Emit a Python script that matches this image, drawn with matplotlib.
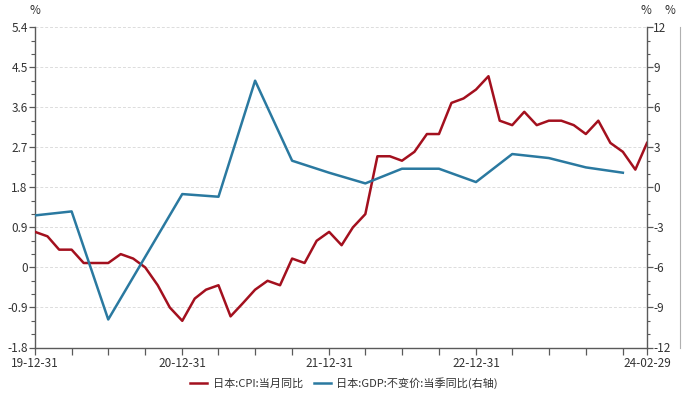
import pandas as pd
import matplotlib
matplotlib.use('Agg')
import matplotlib.pyplot as plt
import matplotlib.dates as mdates

plt.rcParams['font.family'] = ['Noto Sans CJK SC', 'DejaVu Sans']
plt.rcParams['axes.unicode_minus'] = False

# 日本CPI 当月同比, 月度, 2019-12 ~ 2024-02
cpi = [0.8, 0.7, 0.4, 0.4, 0.1, 0.1, 0.1, 0.3, 0.2, 0.0, -0.4, -0.9, -1.2,
       -0.7, -0.5, -0.4, -1.1, -0.8, -0.5, -0.3, -0.4, 0.2, 0.1, 0.6, 0.8,
       0.5, 0.9, 1.2, 2.5, 2.5, 2.4, 2.6, 3.0, 3.0, 3.7, 3.8, 4.0,
       4.3, 3.3, 3.2, 3.5, 3.2, 3.3, 3.3, 3.2, 3.0, 3.3, 2.8, 2.6,
       2.2, 2.8]
# 日本GDP 不变价 当季同比, 季度, 2019Q4 ~ 2023Q4
gdp = [-2.1, -1.8, -9.9, -5.2, -0.5, -0.7, 8.0, 2.0, 1.1,
       0.3, 1.4, 1.4, 0.4, 2.5, 2.2, 1.5, 1.1]

cpi_dates = pd.date_range('2019-12-31', periods=len(cpi), freq=pd.offsets.MonthEnd())
gdp_dates = pd.date_range('2019-12-31', periods=len(gdp), freq=pd.offsets.QuarterEnd(startingMonth=3))

major_dates = pd.to_datetime(['2019-12-31', '2020-12-31', '2021-12-31', '2022-12-31', '2024-02-29'])
minor_dates = pd.date_range('2020-03-31', '2023-12-31', freq=pd.offsets.QuarterEnd(startingMonth=3))

left_ticks = [-1.8, -0.9, 0, 0.9, 1.8, 2.7, 3.6, 4.5, 5.4]
left_labels = ['-1.8', '-0.9', '0', '0.9', '1.8', '2.7', '3.6', '4.5', '5.4']
right_ticks = [-12, -9, -6, -3, 0, 3, 6, 9, 12]

red = '#A3101E'
blue = '#2A79A0'
axis_col = '#5a5a5a'
text_col = '#333333'
fs = 8.5

fig = plt.figure(figsize=(6.88, 3.99), dpi=100)
ax = fig.add_axes([35 / 688, 1 - 347.5 / 399, (647 - 35) / 688, (347.5 - 27.3) / 399])
ax2 = ax.twinx()
ax3 = ax.twinx()

l1, = ax.plot(cpi_dates, cpi, color=red, lw=1.8, label='日本:CPI:当月同比', zorder=3)
l2, = ax2.plot(gdp_dates, gdp, color=blue, lw=1.8, label='日本:GDP:不变价:当季同比(右轴)')

ax.set_xlim(major_dates[0], major_dates[-1])
ax.set_ylim(-1.8, 5.4)
ax2.set_ylim(-12, 12)

ax.set_yticks(left_ticks)
ax.set_yticklabels(left_labels)
ax.set_yticks([-1.8 + 0.3 * i for i in range(25)], minor=True)
ax2.set_yticks(right_ticks)
ax2.set_yticks(range(-12, 13), minor=True)

ax.set_xticks(major_dates)
ax.set_xticklabels([d.strftime('%y-%m-%d') for d in major_dates])
ax.set_xticks(minor_dates, minor=True)

ax.grid(axis='y', which='major', color='#dcdcdc', ls=(0, (3, 2)), lw=0.7)
ax.set_axisbelow(True)

for a in (ax, ax2, ax3):
    for s in a.spines.values():
        s.set_visible(False)
ax.spines['left'].set_visible(True)
ax.spines['bottom'].set_visible(True)
ax2.spines['right'].set_visible(True)
for s in (ax.spines['left'], ax.spines['bottom'], ax2.spines['right']):
    s.set_color(axis_col)
    s.set_linewidth(1.0)

ax.tick_params(axis='y', which='major', length=4.3, width=0.9, color=axis_col,
               labelsize=fs, labelcolor=text_col, pad=1)
ax.tick_params(axis='y', which='minor', length=3, width=0.8, color=axis_col)
ax.tick_params(axis='x', which='both', length=5, width=0.9, color=axis_col,
               labelsize=fs, labelcolor=text_col, pad=2)
ax2.tick_params(axis='y', which='major', length=4, width=0.9, color=axis_col,
                labelsize=fs, labelcolor=text_col, pad=0.5)
ax2.tick_params(axis='y', which='minor', length=2.5, width=0.8, color=axis_col)

# 多出来的那根空轴
ax3.spines['right'].set_visible(True)
ax3.spines['right'].set_position(('outward', 24))
ax3.spines['right'].set_color('#b0b0b0')
ax3.set_yticks([])

fig.text(35 / 688, 1 - 10 / 399, '%', ha='center', va='center', fontsize=fs, color=text_col)
fig.text(646 / 688, 1 - 10 / 399, '%', ha='center', va='center', fontsize=fs, color=text_col)
fig.text(670 / 688, 1 - 10 / 399, '%', ha='center', va='center', fontsize=fs, color=text_col)

fig.legend(handles=[l1, l2], loc='center', bbox_to_anchor=(0.5, 16 / 399), ncol=2,
           frameon=False, fontsize=8, handlelength=1.5, handletextpad=0.5,
           columnspacing=1.0, labelcolor=text_col)

fig.savefig('out.png', dpi=100)
